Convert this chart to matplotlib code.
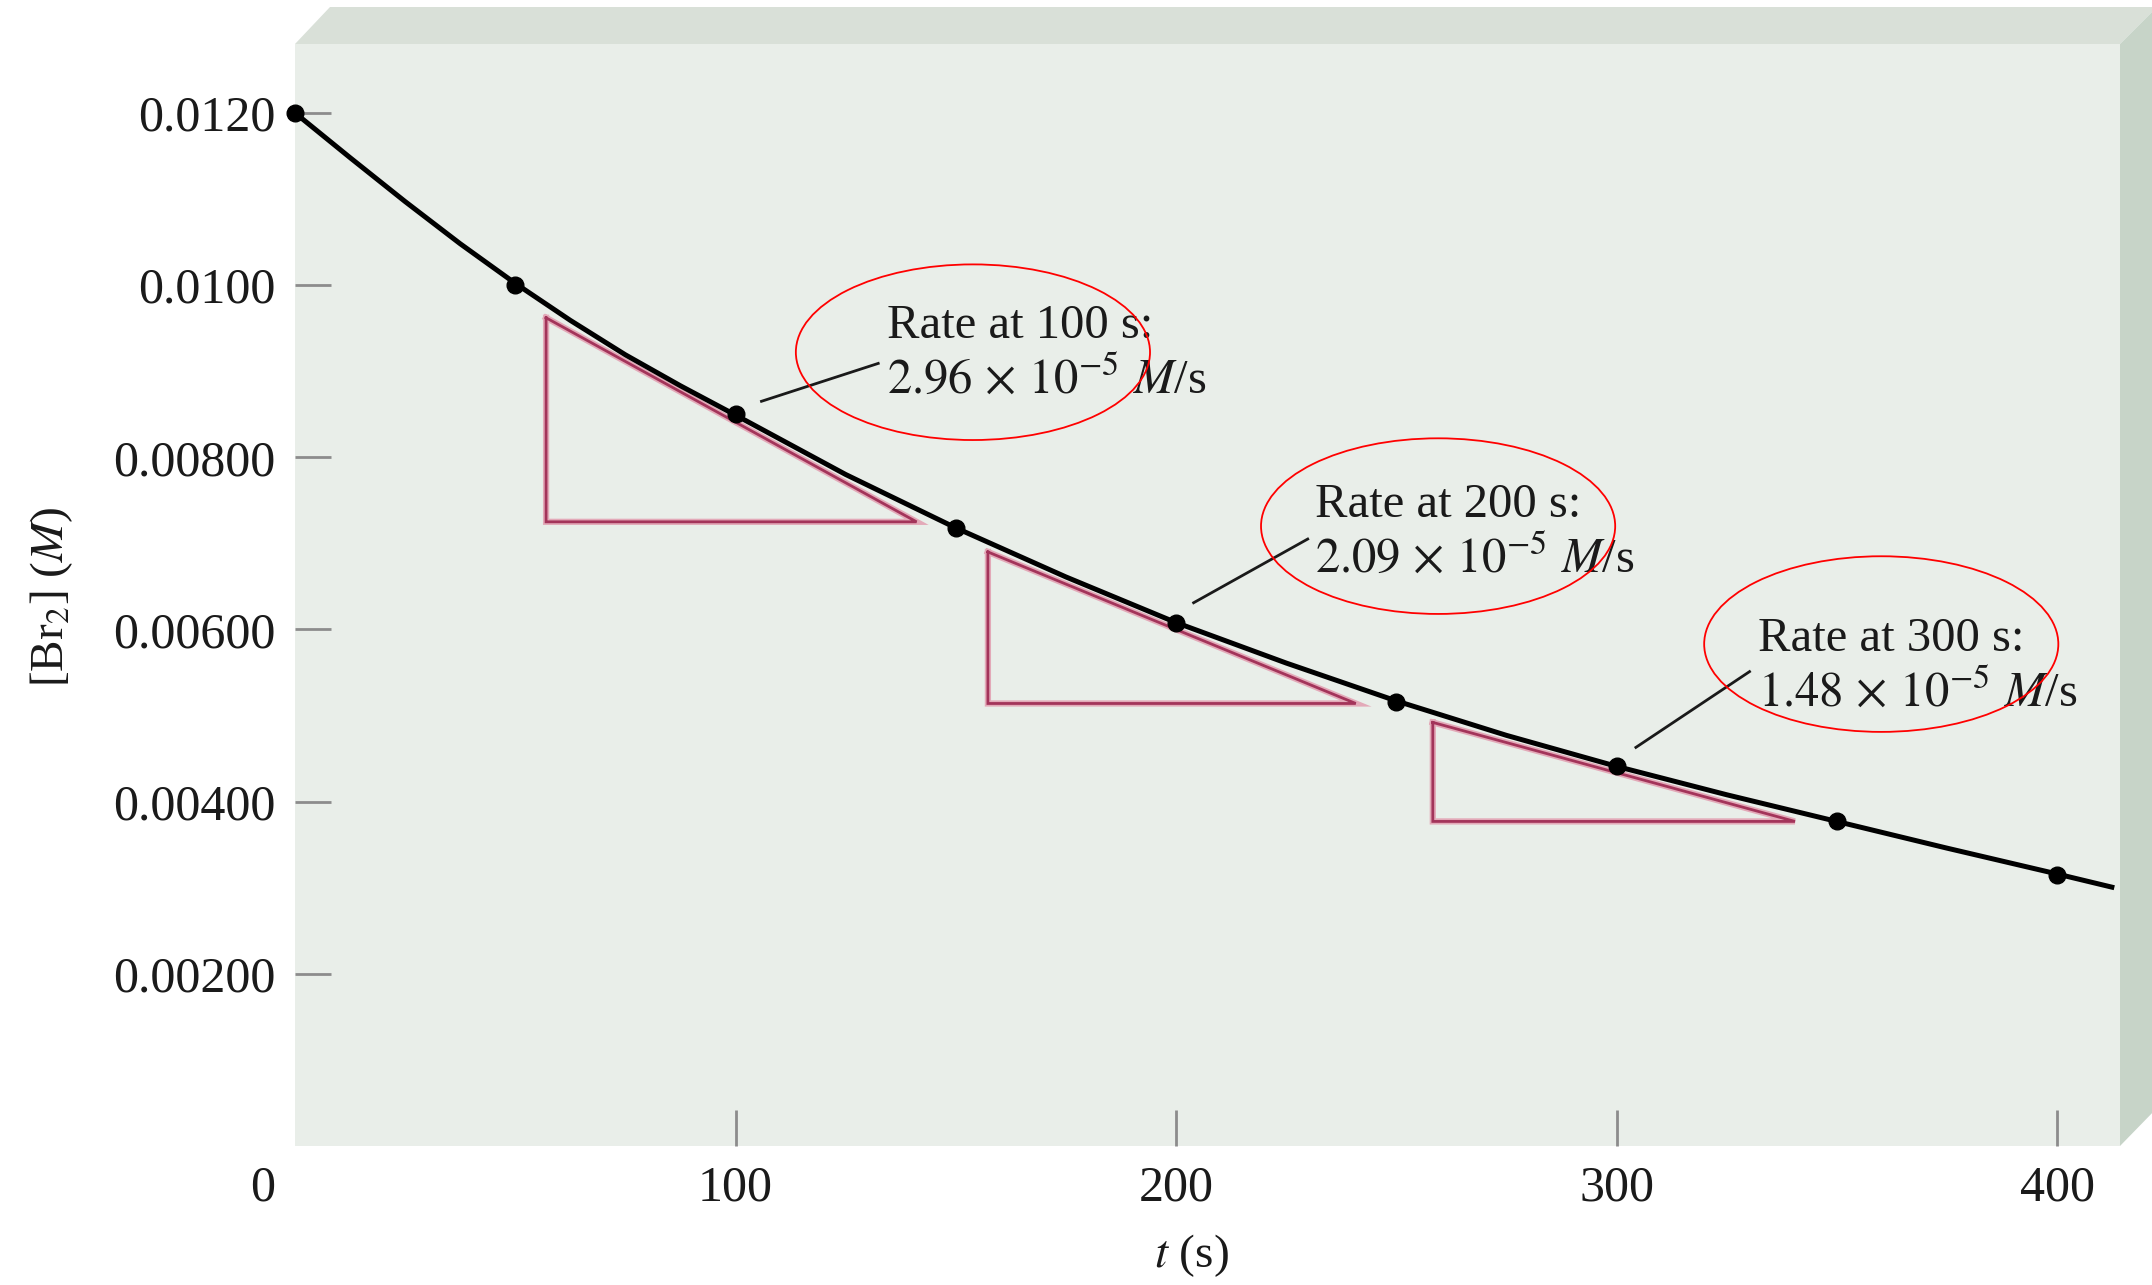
import numpy as np
import matplotlib.pyplot as plt
from matplotlib.patches import Polygon, Ellipse

plt.rcParams['font.family'] = ['Liberation Serif', 'DejaVu Serif']
plt.rcParams['mathtext.fontset'] = 'stix'

# measured points [Br2] vs t
t_pts = [0, 50, 100, 150, 200, 250, 300, 350, 400]
br2_pts = [0.0120, 0.0100, 0.00850, 0.00718, 0.00607, 0.00516, 0.00441, 0.00377, 0.00315]

# smooth curve (denser where it bends most, plus the end of the line)
t_curve = [0, 12.5, 25, 37.5, 50, 62.5, 75, 87.5, 100, 125, 150, 175, 200,
           225, 250, 275, 300, 325, 350, 375, 400, 413]
br2_curve = [0.01200, 0.01148, 0.01097, 0.01048, 0.01002, 0.00959, 0.00919, 0.00883,
             0.00849, 0.00780, 0.00718, 0.00661, 0.00608, 0.00561, 0.00517, 0.00477,
             0.00441, 0.00408, 0.00377, 0.00346, 0.00316, 0.00300]

# tangent triangles: x left, x right, y top, y bottom
tri_x0 = [57.0, 157.3, 258.3]
tri_x1 = [141.1, 240.8, 340.5]
tri_ytop = [0.00962, 0.00690, 0.00492]
tri_ybot = [0.00725, 0.00514, 0.00377]

# rate annotations
rate_t = [100, 200, 300]
rate_val = ['2.96', '2.09', '1.48']
lbl_x = [134.3, 231.5, 332.1]
lbl_y1 = [0.00952, 0.00745, 0.00589]
lbl_y2 = [0.00890, 0.00683, 0.00527]
ptr_x = [(105.9, 132.4), (204.0, 229.9), (304.4, 330.2)]
ptr_y = [(0.00865, 0.00909), (0.00631, 0.00705), (0.00463, 0.00551)]
ell_x = [153.9, 259.5, 360.1]
ell_y = [0.00922, 0.00720, 0.00583]

y_ticks = [0.002, 0.004, 0.006, 0.008, 0.010, 0.012]
y_ticklabels = ['0.00200', '0.00400', '0.00600', '0.00800', '0.0100', '0.0120']
x_ticks = [100, 200, 300, 400]
x_ticklabels = ['100', '200', '300', '400']

W, H = 2152, 1285
fig = plt.figure(figsize=(W / 100, H / 100), dpi=100)
fig.patch.set_facecolor('white')

# face of the "box"
L, T, R, B = 295, 44, 2120, 1146
ax = fig.add_axes([L / W, 1 - B / H, (R - L) / W, (B - T) / H])
ax.set_facecolor('#E9EEE9')
for s in ax.spines.values():
    s.set_visible(False)

# 3D bevel: top band and right side
def fpt(px, py):
    return (px / W, 1 - py / H)

top = Polygon([fpt(L, T), fpt(L + 35, 7), fpt(W + 5, 7), fpt(R, T)],
              closed=True, transform=fig.transFigure, facecolor='#D9E0D8', edgecolor='none')
side = Polygon([fpt(R, T), fpt(W + 5, 7), fpt(W + 5, 1108), fpt(R, B)],
               closed=True, transform=fig.transFigure, facecolor='#C7D4C8', edgecolor='none')
fig.add_artist(top)
fig.add_artist(side)

ax.set_xlim(0, 414.3)
ax.set_ylim(0, 0.0128)

# tangent triangles
for i in range(3):
    xs = [tri_x0[i], tri_x0[i], tri_x1[i], tri_x0[i]]
    ys = [tri_ytop[i], tri_ybot[i], tri_ybot[i], tri_ytop[i]]
    ax.plot(xs, ys, color='#E3A9B8', lw=4.5, solid_joinstyle='miter', zorder=2)
    ax.plot(xs, ys, color='#A3345A', lw=2.0, solid_joinstyle='miter', zorder=2)

# curve + points
ax.plot(t_curve, br2_curve, color='black', lw=3.6, zorder=3, solid_capstyle='butt')
ax.plot(t_pts, br2_pts, 'o', color='black', ms=12, zorder=4, clip_on=False)

# annotations
for i in range(3):
    ax.plot(ptr_x[i], ptr_y[i], color='#1a1a1a', lw=2.0, zorder=3)
    ax.text(lbl_x[i], lbl_y1[i], f'Rate at {rate_t[i]} s:', fontsize=35,
            ha='left', va='center', color='#1a1a1a', zorder=5)
    ax.text(lbl_x[i], lbl_y2[i], rf'${rate_val[i]}\,\times\,10^{{-5}}$ $M$/s', fontsize=35,
            ha='left', va='center', color='#1a1a1a', zorder=5)
    ax.add_patch(Ellipse((ell_x[i], ell_y[i]), 80.4, 0.00204, fill=False,
                         edgecolor='red', lw=1.3, zorder=6))

# ticks
ax.set_yticks(y_ticks)
ax.set_yticklabels(y_ticklabels)
ax.set_xticks(x_ticks)
ax.set_xticklabels(x_ticklabels)
ax.tick_params(axis='both', direction='in', length=26, width=2, color='#8C8C8C',
               labelsize=36, labelcolor='#1a1a1a', pad=14)
ax.annotate('0', xy=(0, 0), xytext=(-23, -14), textcoords='offset points',
            ha='center', va='top', fontsize=36, color='#1a1a1a', annotation_clip=False)

fig.text(52 / W, 1 - 597 / H, r'[Br$_2$] ($M$)', rotation=90, ha='center', va='center',
         fontsize=34, color='#1a1a1a')
fig.text(1191 / W, 1 - 1256 / H, r'$t$ (s)', ha='center', va='center',
         fontsize=34, color='#1a1a1a')

fig.savefig('out.png', dpi=100)
